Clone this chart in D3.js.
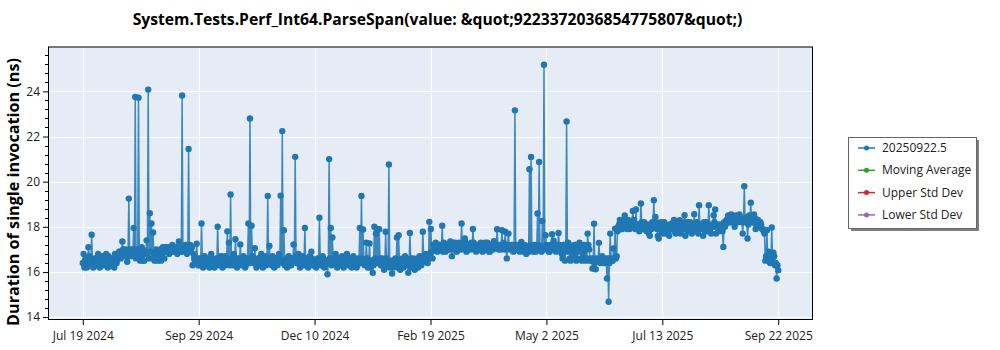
<!DOCTYPE html>
<html>
<head>
<meta charset="utf-8">
<script src="https://cdn.jsdelivr.net/npm/d3@7"></script>
<style>
  html, body { margin: 0; padding: 0; background: #ffffff; }
  svg { display: block; }
</style>
</head>
<body>
<svg id="chart" width="1000" height="350"></svg>
<script>
// ---- Data -------------------------------------------------------------
const chartTitle = "System.Tests.Perf_Int64.ParseSpan(value: &quot;9223372036854775807&quot;)";
const yAxisTitle = "Duration of single invocation (ns)";

// Two benchmark runs per day (05:00 and 17:00), starting on this day.
const firstDay = "2024-07-19";
const runHours = [5, 17];

// Duration of a single invocation (ns) for the morning run of each day.
const morningRuns = [
  16.4, 16.2, 16.6, 16.3, 16.7, 16.4, 16.5, 16.3, 16.6, 16.4,
  16.6, 16.3, 16.7, 16.4, 16.3, 16.5, 16.7, 16.6, 16.3, 16.5,
  16.8, 16.4, 16.6, 16.9, 16.7, 17.0, 16.7, 16.9, 16.7, 17.0,
  16.7, 16.8, 17.0, 16.6, 17.0, 16.8, 16.6, 17.0, 16.5, 16.9,
  16.8, 16.6, 16.9, 16.6, 16.8, 16.6, 16.8, 16.6, 17.0, 16.7,
  17.0, 17.1, 16.9, 17.1, 16.9, 17.0, 17.1, 16.9, 17.1, 17.0,
  17.1, 17.0, 16.9, 17.0, 17.1, 16.9, 16.9, 17.0, 16.3, 16.6,
  16.5, 16.6, 16.3, 16.5, 16.6, 16.4, 16.6, 16.3, 16.6, 16.4,
  16.6, 16.5, 16.3, 16.5, 16.6, 16.4, 16.6, 16.3, 16.7, 16.4,
  16.5, 16.3, 16.6, 16.3, 16.5, 16.6, 16.3, 16.5, 16.6, 16.4,
  16.6, 16.3, 16.6, 16.4, 16.6, 16.7, 16.4, 16.5, 16.3, 16.6,
  16.4, 16.6, 16.3, 16.7, 16.5, 16.4, 16.6, 16.3, 16.5, 16.3,
  16.6, 16.4, 16.6, 16.5, 16.4, 16.3, 16.6, 16.4, 16.6, 16.3,
  16.5, 16.6, 16.7, 16.4, 16.6, 16.3, 16.7, 16.5, 16.3, 16.5,
  16.4, 16.5, 16.6, 16.3, 16.5, 16.4, 16.6, 16.5, 16.3, 16.6,
  16.3, 16.5, 16.4, 16.6, 16.3, 16.6, 16.4, 16.5, 16.3, 16.6,
  16.4, 16.6, 16.3, 16.5, 16.6, 16.3, 16.5, 16.4, 16.6, 16.5,
  16.3, 16.5, 16.4, 16.6, 16.5, 16.4, 16.6, 16.4, 16.2, 16.5,
  16.3, 16.6, 16.4, 16.5, 16.6, 16.3, 16.5, 16.4, 16.6, 16.3,
  16.2, 16.4, 16.5, 16.3, 16.4, 16.2, 16.5, 16.3, 16.6, 16.4,
  16.5, 16.3, 16.4, 16.6, 16.3, 16.5, 16.2, 16.6, 16.4, 16.6,
  16.4, 16.7, 16.5, 16.7, 16.6, 16.8, 16.9, 17.2, 17.0, 17.2,
  17.0, 17.2, 17.1, 16.9, 17.1, 17.0, 17.2, 17.0, 17.1, 17.3,
  17.0, 17.2, 17.0, 17.3, 17.1, 17.0, 17.1, 17.3, 17.0, 17.2,
  17.1, 17.0, 17.3, 17.1, 17.0, 17.2, 17.0, 17.2, 17.0, 17.3,
  17.0, 17.1, 16.9, 17.2, 17.0, 17.3, 17.1, 17.2, 17.0, 17.1,
  17.0, 17.1, 17.0, 17.2, 17.1, 17.0, 17.2, 17.0, 17.2, 17.0,
  17.1, 17.0, 17.2, 16.9, 17.1, 17.0, 16.9, 17.2, 17.1, 16.9,
  17.1, 17.0, 17.2, 17.1, 16.9, 17.1, 17.0, 17.2, 17.1, 16.9,
  17.1, 17.0, 17.2, 16.9, 17.1, 17.2, 17.0, 16.6, 17.2, 17.1,
  16.9, 17.2, 16.5, 17.0, 16.7, 17.2, 16.6, 16.9, 17.2, 16.5,
  16.8, 17.0, 16.6, 17.2, 16.5, 16.5, 16.6, 16.4, 16.6, 16.5,
  16.6, 16.5, 16.6, 16.4, 16.5, 16.6, 16.4, 16.6, 16.5, 16.6,
  16.6, 17.8, 18.1, 18.2, 17.9, 18.1, 18.3, 17.9, 18.1, 18.0,
  18.2, 18.3, 17.9, 18.0, 18.1, 17.9, 18.2, 17.9, 18.1, 17.8,
  18.0, 17.6, 17.9, 18.1, 18.0, 18.2, 17.6, 17.9, 18.2, 17.7,
  18.2, 17.7, 18.0, 17.6, 18.1, 17.9, 18.3, 17.7, 18.0, 18.2,
  17.7, 18.0, 18.2, 17.6, 18.1, 17.8, 18.2, 17.7, 18.0, 17.9,
  18.2, 17.7, 18.1, 18.0, 17.6, 18.0, 18.2, 17.8, 18.1, 17.7,
  18.0, 18.2, 17.7, 18.1, 17.9, 18.0, 17.8, 18.2, 18.1, 18.3,
  18.4, 18.2, 18.4, 18.3, 18.2, 18.4, 18.3, 18.4, 18.2, 18.3,
  18.2, 18.3, 18.1, 18.4, 18.3, 18.2, 18.4, 18.1, 18.3, 18.0,
  18.1, 17.9, 17.7, 16.7, 16.6, 16.7, 16.5, 16.6, 16.7, 16.4,
  16.3
];

// Duration of a single invocation (ns) for the evening run of each day.
const eveningRuns = [
  16.8, 16.5, 16.2, 17.1, 16.3, 17.65, 16.2, 16.6, 16.3, 16.8,
  16.2, 16.5, 16.3, 16.7, 16.8, 16.2, 16.4, 16.3, 16.6, 16.2,
  16.5, 16.7, 16.9, 16.6, 17.35, 16.8, 17.0, 16.45, 19.25, 16.8,
  17.0, 17.95, 23.75, 16.9, 23.72, 16.5, 17.1, 16.5, 16.8, 17.4,
  24.08, 18.6, 18.15, 17.75, 16.5, 17.0, 16.5, 16.9, 16.5, 17.1,
  16.6, 16.9, 17.1, 16.8, 17.0, 17.2, 16.9, 17.0, 16.8, 17.35,
  16.9, 23.82, 17.0, 17.2, 16.8, 21.45, 17.2, 17.1, 16.8, 16.4,
  17.25, 16.3, 16.6, 18.15, 16.2, 16.7, 16.3, 16.5, 16.2, 16.8,
  16.4, 16.2, 16.6, 18.0, 16.3, 16.7, 16.2, 16.5, 16.3, 17.8,
  17.3, 19.43, 16.4, 16.8, 17.45, 16.2, 16.6, 17.22, 16.3, 16.7,
  16.2, 16.5, 18.15, 22.8, 18.05, 16.4, 17.05, 16.2, 16.6, 16.3,
  16.8, 16.2, 16.5, 16.3, 19.37, 17.15, 16.4, 16.7, 16.2, 16.6,
  16.3, 16.8, 19.38, 22.24, 17.85, 16.5, 16.2, 16.7, 16.3, 16.6,
  17.22, 21.1, 16.4, 16.8, 16.2, 16.5, 16.3, 17.95, 16.6, 16.2,
  16.7, 16.9, 16.3, 16.5, 16.2, 16.6, 18.4, 16.3, 16.7, 16.2,
  16.5, 15.9, 21.0, 17.95, 17.53, 16.4, 16.8, 16.2, 16.6, 16.3,
  16.7, 16.2, 16.5, 16.8, 16.3, 16.6, 16.2, 16.7, 16.4, 16.2,
  16.6, 17.95, 19.37, 17.88, 16.3, 17.3, 16.2, 17.26, 16.5, 15.96,
  18.0, 17.7, 17.9, 17.89, 16.3, 16.6, 16.1, 17.78, 16.4, 20.76,
  16.5, 15.93, 16.2, 16.6, 17.53, 17.63, 16.1, 16.5, 16.2, 16.7,
  16.3, 15.96, 17.73, 16.2, 16.6, 16.1, 16.4, 16.2, 16.7, 16.3,
  17.78, 16.5, 16.8, 16.4, 18.22, 17.9, 16.6, 17.0, 17.3, 16.9,
  17.2, 17.0, 18.05, 17.3, 16.9, 17.2, 17.0, 17.35, 16.7, 17.1,
  17.3, 16.9, 17.2, 17.0, 18.15, 17.3, 17.48, 16.9, 17.2, 17.0,
  17.3, 17.9, 17.1, 16.9, 17.2, 17.0, 17.3, 16.9, 17.15, 17.0,
  17.3, 16.9, 17.2, 17.0, 17.36, 17.1, 17.89, 17.0, 17.2, 17.85,
  17.29, 17.78, 16.6, 17.7, 17.0, 17.2, 16.9, 23.16, 17.0, 17.2,
  16.9, 17.33, 17.0, 17.2, 16.8, 17.1, 20.55, 21.09, 17.0, 17.2,
  16.9, 18.59, 20.87, 17.0, 18.26, 25.18, 17.63, 17.1, 16.9, 17.2,
  17.67, 17.38, 17.0, 17.2, 17.73, 17.0, 16.8, 17.2, 16.5, 22.67,
  17.3, 16.6, 17.1, 16.9, 17.2, 16.5, 17.0, 17.3, 16.6, 17.1,
  17.2, 16.5, 17.7, 17.0, 16.6, 16.15, 18.14, 16.12, 16.5, 17.29,
  16.4, 16.7, 16.4, 16.6, 15.71, 14.68, 17.7, 16.5, 17.04, 17.92,
  16.7, 18.0, 18.3, 17.9, 18.2, 18.5, 18.0, 18.3, 17.9, 18.2,
  18.7, 18.0, 18.77, 18.1, 17.8, 19.03, 18.0, 18.2, 17.9, 18.1,
  17.7, 18.0, 18.2, 19.18, 18.44, 17.9, 17.48, 18.0, 17.8, 18.1,
  17.9, 18.0, 17.7, 18.1, 17.9, 18.2, 17.8, 18.0, 17.9, 18.29,
  17.8, 18.1, 18.51, 17.9, 18.2, 17.8, 18.0, 17.9, 18.56, 18.1,
  17.8, 18.96, 18.0, 17.9, 18.2, 17.8, 18.1, 18.96, 17.9, 18.0,
  18.51, 18.77, 18.0, 17.8, 18.1, 17.9, 17.11, 18.0, 18.3, 18.5,
  18.2, 18.55, 18.3, 18.0, 18.5, 18.2, 18.55, 18.3, 17.7, 19.8,
  18.4, 17.48, 18.5, 19.07, 18.2, 18.55, 17.9, 18.3, 18.0, 18.2,
  17.9, 17.8, 16.5, 17.85, 16.9, 16.4, 17.97, 16.85, 16.3, 15.71,
  16.08
];

const xTickLabels = ["Jul 19 2024", "Sep 29 2024", "Dec 10 2024", "Feb 19 2025",
                     "May 2 2025", "Jul 13 2025", "Sep 22 2025"];
const yTickValues = [14, 16, 18, 20, 22, 24];

const legendNames = ["20250922.5", "Moving Average", "Upper Std Dev", "Lower Std Dev"];
const legendColors = ["#1f77b4", "#2ca02c", "#d62728", "#9467bd"];

// ---- Layout -------------------------------------------------------------
const plot = { left: 48, right: 813, top: 46.5, bottom: 320 };
const FONT = "'Open Sans', 'Noto Sans', 'DejaVu Sans', sans-serif";
const seriesColor = legendColors[0];

const svg = d3.select("#chart");

// Interleave both daily runs into one chronological series.
const day0 = d3.timeParse("%Y-%m-%d")(firstDay);
const points = [];
morningRuns.forEach((v, i) => {
  const day = d3.timeDay.offset(day0, i);
  points.push({ date: d3.timeHour.offset(day, runHours[0]), value: v });
  points.push({ date: d3.timeHour.offset(day, runHours[1]), value: eveningRuns[i] });
});
const allValues = points.map(d => d.value);

// x: data extent padded 5% on each side
const [tMin, tMax] = d3.extent(points, d => d.date);
const tPad = (tMax - tMin) * 0.05;
const x = d3.scaleTime()
  .domain([new Date(+tMin - tPad), new Date(+tMax + tPad)])
  .range([plot.left, plot.right]);

// y: data extent padded on each side
const [vMin, vMax] = d3.extent(allValues);
const vPad = (vMax - vMin) * 0.077;
const y = d3.scaleLinear()
  .domain([vMin - vPad, vMax + vPad])
  .range([plot.bottom, plot.top]);

// x ticks split the data range into six equal steps
const xTickValues = d3.range(xTickLabels.length)
  .map(i => new Date(+tMin + (tMax - tMin) * i / (xTickLabels.length - 1)));

// ---- Plot background and grid --------------------------------------------
svg.append("rect")
  .attr("x", plot.left).attr("y", plot.top)
  .attr("width", plot.right - plot.left).attr("height", plot.bottom - plot.top)
  .attr("fill", "#e5ecf6");

const grid = svg.append("g").attr("stroke", "#ffffff").attr("stroke-width", 1);
grid.selectAll("line.gy").data(yTickValues).join("line")
  .attr("class", "gy")
  .attr("x1", plot.left).attr("x2", plot.right)
  .attr("y1", d => Math.round(y(d)) + 0.5).attr("y2", d => Math.round(y(d)) + 0.5);
grid.selectAll("line.gx").data(xTickValues).join("line")
  .attr("class", "gx")
  .attr("y1", plot.top).attr("y2", plot.bottom)
  .attr("x1", d => Math.round(x(d)) + 0.5).attr("x2", d => Math.round(x(d)) + 0.5);

// ---- Series ------------------------------------------------------------
svg.append("clipPath").attr("id", "plot-clip")
  .append("rect")
  .attr("x", plot.left).attr("y", plot.top)
  .attr("width", plot.right - plot.left).attr("height", plot.bottom - plot.top);

const series = svg.append("g").attr("clip-path", "url(#plot-clip)");

series.append("path")
  .datum(points)
  .attr("fill", "none")
  .attr("stroke", seriesColor)
  .attr("stroke-opacity", 0.85)
  .attr("stroke-width", 1.5)
  .attr("stroke-linejoin", "round")
  .attr("d", d3.line().x(d => x(d.date)).y(d => y(d.value)));

series.selectAll("circle").data(points).join("circle")
  .attr("cx", d => x(d.date))
  .attr("cy", d => y(d.value))
  .attr("r", 3.2)
  .attr("fill", seriesColor);

// ---- Axes -------------------------------------------------------------
const yAxis = d3.axisLeft(y)
  .tickValues(yTickValues)
  .tickSize(5)
  .tickPadding(3)
  .tickFormat(d3.format("d"));
const gy = svg.append("g").attr("transform", `translate(${plot.left},0)`).call(yAxis);

// minor ticks on the value axis
const [yLo, yHi] = y.domain();
const minorY = d3.range(0, 40).map(i => +(14 + i * 0.4).toFixed(2))
  .filter(v => v >= yLo && v <= yHi && !yTickValues.includes(v));
svg.append("g").selectAll("line").data(minorY).join("line")
  .attr("x1", plot.left - 3).attr("x2", plot.left)
  .attr("y1", d => Math.round(y(d)) + 0.5).attr("y2", d => Math.round(y(d)) + 0.5)
  .attr("stroke", "#000").attr("stroke-width", 1);

const xAxis = d3.axisBottom(x)
  .tickValues(xTickValues)
  .tickSize(5)
  .tickPadding(4)
  .tickFormat((d, i) => xTickLabels[i]);
const gx = svg.append("g").attr("transform", `translate(0,${plot.bottom})`).call(xAxis);

[gx, gy].forEach(g => {
  g.select(".domain").remove();
  g.selectAll(".tick line").attr("stroke", "#000");
  g.selectAll(".tick text")
    .attr("fill", "#222")
    .style("font-family", FONT)
    .style("font-size", "12px");
});
gx.selectAll(".tick text").attr("dy", "0.95em");

// plot frame
svg.append("rect")
  .attr("x", plot.left + 0.5).attr("y", plot.top + 0.5)
  .attr("width", plot.right - plot.left - 1).attr("height", plot.bottom - plot.top - 1)
  .attr("fill", "none").attr("stroke", "#000").attr("stroke-width", 1);

// ---- Titles -----------------------------------------------------------
function fitWidth(sel, target) {
  const w = sel.node().getComputedTextLength();
  const size = parseFloat(sel.style("font-size"));
  if (w > 0) sel.style("font-size", (size * target / w).toFixed(2) + "px");
}

const titleText = svg.append("text")
  .attr("x", 437.5).attr("y", 25)
  .attr("text-anchor", "middle")
  .style("font-family", FONT)
  .style("font-weight", "bold")
  .style("font-size", "15px")
  .attr("fill", "#000")
  .text(chartTitle);
fitWidth(titleText, 610);

const yTitle = svg.append("text")
  .attr("transform", "translate(19,192) rotate(-90)")
  .attr("text-anchor", "middle")
  .style("font-family", FONT)
  .style("font-weight", "bold")
  .style("font-size", "16px")
  .attr("fill", "#000")
  .text(yAxisTitle);
fitWidth(yTitle, 268);

// ---- Legend -----------------------------------------------------------
const legendBox = { x: 848, y: 137, w: 128, h: 91 };
const legend = svg.append("g");
legend.append("rect")
  .attr("x", legendBox.x + 3).attr("y", legendBox.y + 3)
  .attr("width", legendBox.w).attr("height", legendBox.h)
  .attr("fill", "#555").attr("opacity", 0.75);
legend.append("rect")
  .attr("x", legendBox.x + 0.5).attr("y", legendBox.y + 0.5)
  .attr("width", legendBox.w).attr("height", legendBox.h)
  .attr("fill", "#ffffff").attr("stroke", "#666").attr("stroke-width", 1);

const items = legend.selectAll("g.item").data(legendNames).join("g")
  .attr("class", "item")
  .attr("transform", (d, i) => `translate(0,${148 + i * 22.3})`);
items.append("line")
  .attr("x1", 858).attr("x2", 875)
  .attr("stroke", (d, i) => legendColors[i]).attr("stroke-width", 1.5);
items.append("circle")
  .attr("cx", 866.5).attr("r", 2.5)
  .attr("fill", (d, i) => legendColors[i]);
items.append("text")
  .attr("x", 882).attr("y", 4)
  .style("font-family", FONT)
  .style("font-size", "12px")
  .attr("fill", "#222")
  .text(d => d);
</script>
</body>
</html>
